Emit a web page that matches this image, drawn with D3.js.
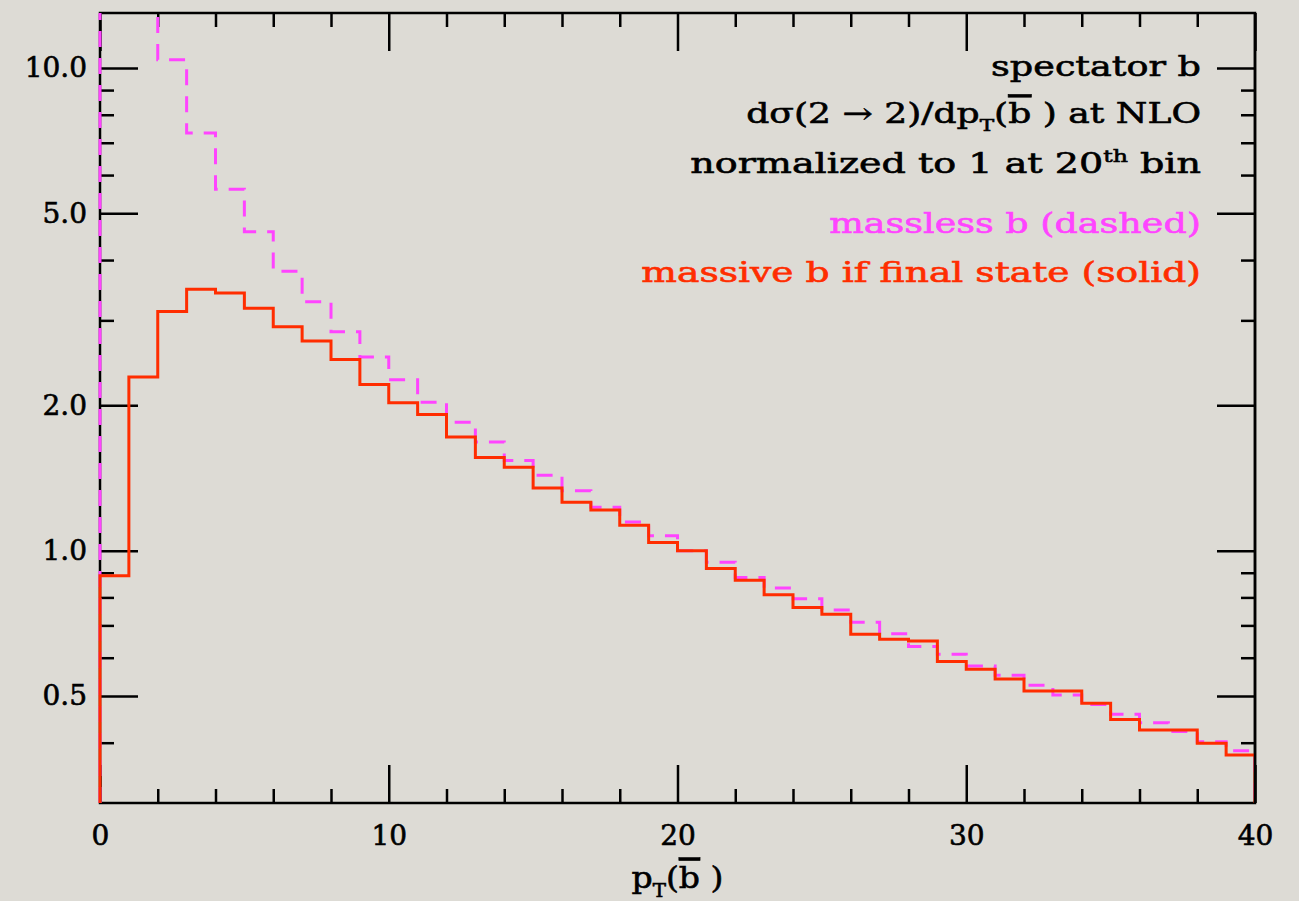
<!DOCTYPE html>
<html>

<head>
    <title>pT(bbar) spectrum</title>
    <script src="https://cdn.jsdelivr.net/npm/d3@7"></script>
    <style>
        body { margin: 0; background: #dddbd5; }
    </style>
</head>

<body>
    <svg width="1299" height="901" id="mainsvg" style="display: block;"></svg>
    <script>
        // bin lower edges, bins are 1 GeV wide
        const binLow = [0, 1, 2, 3, 4, 5, 6, 7, 8, 9, 10, 11, 12, 13, 14, 15, 16, 17, 18, 19,
            20, 21, 22, 23, 24, 25, 26, 27, 28, 29, 30, 31, 32, 33, 34, 35, 36, 37, 38, 39];
        const binWidth = 1;
        // massive b (solid red)
        const massiveVals = [0.887, 2.29, 3.13, 3.48, 3.42, 3.18, 2.91, 2.72, 2.49, 2.21,
            2.025, 1.915, 1.72, 1.56, 1.489, 1.349, 1.26, 1.214, 1.129, 1.039,
            1.0, 0.918, 0.868, 0.810, 0.762, 0.738, 0.671, 0.655, 0.650, 0.589,
            0.568, 0.542, 0.512, 0.512, 0.483, 0.447, 0.425, 0.425, 0.399, 0.377];
        // massless b (dashed magenta), first two bins run off the top
        const masslessVals = [40, 16, 10.4, 7.33, 5.61, 4.58, 3.79, 3.28, 2.84, 2.52,
            2.26, 2.03, 1.846, 1.68, 1.537, 1.433, 1.33, 1.23, 1.147, 1.073,
            1.0, 0.946, 0.880, 0.837, 0.795, 0.753, 0.711, 0.673, 0.633, 0.610,
            0.577, 0.552, 0.526, 0.502, 0.480, 0.458, 0.440, 0.422, 0.402, 0.385];

        const xMajor = [0, 10, 20, 30, 40];
        const xMinor = [2, 4, 6, 8, 12, 14, 16, 18, 22, 24, 26, 28, 32, 34, 36, 38];
        const yMajor = [0.5, 1, 2, 5, 10];
        const yMinor = [0.4, 0.6, 0.7, 0.8, 0.9, 3, 4, 6, 7, 8, 9];
        const xDomain = [0, 40];
        const yDomain = [0.3, 13];

        const svg = d3.select('#mainsvg');
        const width = +svg.attr('width');
        const height = +svg.attr('height');
        const margin = { top: 13, right: 44, bottom: 98, left: 100 };
        const innerWidth = width - margin.left - margin.right;
        const innerHeight = height - margin.top - margin.bottom;
        const fontFam = '"DejaVu Serif", "Liberation Serif", serif';
        const red = '#ff2d00';
        const magenta = '#ff44ff';

        svg.append('rect').attr('width', width).attr('height', height).attr('fill', '#dddbd5');

        const g = svg.append('g').attr('id', 'maingroup')
            .attr('transform', `translate(${margin.left}, ${margin.top})`);

        const xScale = d3.scaleLinear().domain(xDomain).range([0, innerWidth]);
        const yScale = d3.scaleLog().domain(yDomain).range([innerHeight, 0]);

        // inward ticks on all four sides
        const styleAxis = function (sel) {
            sel.style('color', '#000')
                .attr('font-family', fontFam)
                .attr('font-size', 28);
            sel.selectAll('.domain').remove();
            sel.selectAll('.tick line').attr('stroke-width', 2.5);
            sel.selectAll('.tick text').filter(function () { return this.textContent === ''; }).remove();
            sel.selectAll('.tick text').attr('stroke', 'currentColor').attr('stroke-width', 0.6);
        }
        const major = 38, minor = 14;

        g.append('g').call(d3.axisLeft(yScale).tickValues(yMajor).tickSize(-major)
            .tickPadding(13).tickFormat(d3.format('.1f'))).call(styleAxis);
        g.append('g').call(d3.axisLeft(yScale).tickValues(yMinor).tickSize(-minor)
            .tickFormat('')).call(styleAxis);
        g.append('g').attr('transform', `translate(${innerWidth}, 0)`)
            .call(d3.axisRight(yScale).tickValues(yMajor).tickSize(-major).tickFormat('')).call(styleAxis);
        g.append('g').attr('transform', `translate(${innerWidth}, 0)`)
            .call(d3.axisRight(yScale).tickValues(yMinor).tickSize(-minor).tickFormat('')).call(styleAxis);

        g.append('g').attr('transform', `translate(0, ${innerHeight})`)
            .call(d3.axisBottom(xScale).tickValues(xMajor).tickSize(-major)
                .tickPadding(22).tickFormat(d3.format('d'))).call(styleAxis);
        g.append('g').attr('transform', `translate(0, ${innerHeight})`)
            .call(d3.axisBottom(xScale).tickValues(xMinor).tickSize(-minor).tickFormat('')).call(styleAxis);
        g.append('g').call(d3.axisTop(xScale).tickValues(xMajor).tickSize(-major).tickFormat('')).call(styleAxis);
        g.append('g').call(d3.axisTop(xScale).tickValues(xMinor).tickSize(-minor).tickFormat('')).call(styleAxis);

        g.append('rect')
            .attr('width', innerWidth).attr('height', innerHeight)
            .attr('fill', 'none').attr('stroke', '#000').attr('stroke-width', 2.5);

        // histogram outlines
        svg.append('defs').append('clipPath').attr('id', 'plotclip')
            .append('rect').attr('x', -4).attr('y', 0)
            .attr('width', innerWidth + 4).attr('height', innerHeight + 4);

        const stepLine = d3.line()
            .x(d => xScale(d[0]))
            .y(d => yScale(d[1]))
            .curve(d3.curveStepAfter);

        const outline = function (vals) {
            const base = yDomain[0];
            const pts = [[binLow[0], base]];
            vals.forEach((v, i) => pts.push([binLow[i], v]));
            const last = binLow.length - 1;
            pts.push([binLow[last] + binWidth, vals[last]]);
            pts.push([binLow[last] + binWidth, base]);
            return pts;
        }

        const curves = g.append('g').attr('clip-path', 'url(#plotclip)');
        curves.append('path')
            .attr('d', stepLine(outline(masslessVals)))
            .attr('fill', 'none')
            .attr('stroke', magenta)
            .attr('stroke-width', 3)
            .attr('stroke-dasharray', '16,11');
        curves.append('path')
            .attr('d', stepLine(outline(massiveVals)))
            .attr('fill', 'none')
            .attr('stroke', red)
            .attr('stroke-width', 3);

        // right frame edge drawn again over the curves
        g.append('line')
            .attr('x1', innerWidth).attr('x2', innerWidth)
            .attr('y1', 0).attr('y2', innerHeight)
            .attr('stroke', '#000').attr('stroke-width', 2.5);

        // text lines: parts are [string, kind]; widened to the measured width
        const writeLine = function (parts, x, y, target, colour, anchor, fs) {
            const lg = svg.append('g');
            const t = lg.append('text')
                .attr('text-anchor', anchor)
                .attr('font-family', fontFam)
                .attr('font-size', fs)
                .attr('fill', colour)
                .attr('stroke', colour)
                .attr('stroke-width', 0.6);
            let shift = 0;
            parts.forEach(p => {
                const s = t.append('tspan').text(p[0]);
                let want = 0;
                if (p[1] === 'sub') { want = fs * 0.3; s.attr('font-size', fs * 0.6); }
                if (p[1] === 'sup') { want = -fs * 0.38; s.attr('font-size', fs * 0.62); }
                if (p[1] === 'over') { s.style('text-decoration', 'overline'); }
                if (want !== shift) { s.attr('dy', want - shift); shift = want; }
            });
            const w = t.node().getComputedTextLength();
            lg.attr('transform', `translate(${x}, ${y}) scale(${target / w}, 1)`);
        }

        const textRight = 1201;
        writeLine([['spectator b', '']], textRight, 76, 210, '#000', 'end', 28);
        writeLine([['d\u03c3(2 \u2192 2)/dp', ''], ['T', 'sub'], ['(', ''], ['b', 'over'], [' ) at NLO', '']],
            textRight, 123, 455, '#000', 'end', 28);
        writeLine([['normalized to 1 at 20', ''], ['th', 'sup'], [' bin', '']],
            textRight, 173, 511, '#000', 'end', 28);
        writeLine([['massless b (dashed)', '']], textRight, 233, 372, magenta, 'end', 28);
        writeLine([['massive b if final state (solid)', '']], textRight, 282, 560, red, 'end', 28);

        // x axis title
        writeLine([['p', ''], ['T', 'sub'], ['(', ''], ['b', 'over'], [' )', '']],
            margin.left + innerWidth / 2, 888, 92, '#000', 'middle', 30);
    </script>
</body>

</html>
